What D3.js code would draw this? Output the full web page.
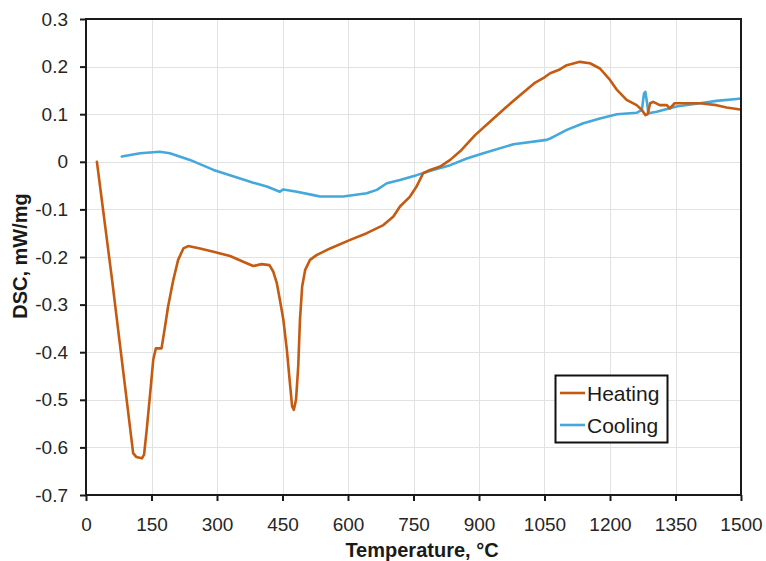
<!DOCTYPE html>
<html>
<head>
<meta charset="utf-8">
<script src="https://cdn.jsdelivr.net/npm/d3@7"></script>
<style>
  html, body { margin: 0; padding: 0; background: #fff; }
  svg { display: block; font-family: "Liberation Sans", Arial, sans-serif; }
</style>
</head>
<body>
<svg id="chart" width="766" height="561"></svg>
<script>
// ---- data ----
const heatT = [25, 60, 108, 115, 128, 133, 139, 147, 154, 160, 173, 181, 188, 200, 211, 223, 234, 261, 292, 330, 360, 383, 402, 420, 429, 437, 444, 452, 460, 467, 472, 476, 481, 486, 490, 495, 502, 513, 528, 559, 605, 643, 681, 704, 719, 742, 757, 772, 788, 811, 834, 860, 891, 925, 960, 994, 1028, 1051, 1063, 1085, 1101, 1131, 1154, 1177, 1200, 1216, 1238, 1261, 1273, 1281, 1286, 1292, 1299, 1314, 1330, 1337, 1348, 1368, 1406, 1444, 1467, 1498];
const heatDSC = [0.000, -0.250, -0.612, -0.620, -0.623, -0.615, -0.563, -0.486, -0.416, -0.392, -0.392, -0.346, -0.304, -0.248, -0.206, -0.182, -0.177, -0.182, -0.189, -0.198, -0.210, -0.219, -0.215, -0.217, -0.231, -0.255, -0.290, -0.332, -0.395, -0.465, -0.514, -0.521, -0.500, -0.430, -0.332, -0.262, -0.227, -0.206, -0.196, -0.182, -0.164, -0.150, -0.133, -0.115, -0.094, -0.073, -0.052, -0.024, -0.017, -0.010, 0.004, 0.025, 0.056, 0.084, 0.113, 0.140, 0.166, 0.178, 0.186, 0.194, 0.203, 0.210, 0.207, 0.196, 0.172, 0.151, 0.130, 0.119, 0.109, 0.098, 0.100, 0.123, 0.126, 0.119, 0.119, 0.112, 0.123, 0.123, 0.123, 0.119, 0.114, 0.110];

const coolT = [82, 124, 169, 192, 238, 292, 353, 383, 414, 444, 452, 483, 521, 536, 589, 643, 666, 689, 719, 757, 795, 834, 872, 910, 979, 1055, 1063, 1078, 1101, 1139, 1177, 1216, 1261, 1273, 1278, 1281, 1285, 1288, 1307, 1352, 1406, 1444, 1490, 1500];
const coolDSC = [0.011, 0.018, 0.021, 0.018, 0.004, -0.017, -0.035, -0.044, -0.052, -0.063, -0.058, -0.063, -0.070, -0.073, -0.073, -0.066, -0.059, -0.045, -0.038, -0.028, -0.017, -0.007, 0.007, 0.018, 0.037, 0.046, 0.049, 0.056, 0.067, 0.081, 0.091, 0.100, 0.103, 0.109, 0.144, 0.147, 0.123, 0.102, 0.105, 0.116, 0.123, 0.128, 0.132, 0.133];

const xTicks = [0, 150, 300, 450, 600, 750, 900, 1050, 1200, 1350, 1500];
const yTicks = [0.3, 0.2, 0.1, 0, -0.1, -0.2, -0.3, -0.4, -0.5, -0.6, -0.7];
const seriesNames = ["Heating", "Cooling"];
const seriesColors = ["#C55A11", "#45A8DB"];

// ---- layout ----
const svg = d3.select("#chart");
const L = 86, R = 741, T = 19, B = 495;
const x = d3.scaleLinear().domain([0, 1500]).range([L, R]);
const y = d3.scaleLinear().domain([-0.7, 0.3]).range([B, T]);

// gridlines
const grid = svg.append("g").attr("stroke", "#e2e2e2").attr("stroke-width", 1);
grid.selectAll("line.v").data(xTicks).join("line")
  .attr("x1", d => Math.round(x(d)) + 0.5).attr("x2", d => Math.round(x(d)) + 0.5)
  .attr("y1", T).attr("y2", B);
grid.selectAll("line.h").data(yTicks).join("line")
  .attr("y1", d => Math.round(y(d)) + 0.5).attr("y2", d => Math.round(y(d)) + 0.5)
  .attr("x1", L).attr("x2", R);

// series
const line = d3.line().x(d => x(d[0])).y(d => y(d[1]));
const heat = heatT.map((t, i) => [t, heatDSC[i]]);
const cool = coolT.map((t, i) => [t, coolDSC[i]]);
svg.append("path").datum(cool).attr("d", line)
  .attr("fill", "none").attr("stroke", seriesColors[1]).attr("stroke-width", 2.6)
  .attr("stroke-linejoin", "round").attr("stroke-linecap", "round");
svg.append("path").datum(heat).attr("d", line)
  .attr("fill", "none").attr("stroke", seriesColors[0]).attr("stroke-width", 2.6)
  .attr("stroke-linejoin", "round").attr("stroke-linecap", "round");

// frame
svg.append("rect").attr("x", L).attr("y", T).attr("width", R - L).attr("height", B - T)
  .attr("fill", "none").attr("stroke", "#1a1a1a").attr("stroke-width", 2);

// axes
const yAxis = d3.axisLeft(y).tickValues(yTicks).tickSize(6).tickPadding(12)
  .tickFormat(d => d === 0 ? "0" : d3.format(".1f")(d).replace("−", "-"));
const gy = svg.append("g").attr("transform", `translate(${L},0)`).call(yAxis);
gy.select(".domain").remove();
gy.selectAll(".tick line").attr("stroke", "#1a1a1a").attr("stroke-width", 2);
gy.selectAll(".tick text").attr("font-size", 19).attr("fill", "#262626")
  .attr("font-family", "Liberation Sans, Arial, sans-serif");

const xAxis = d3.axisBottom(x).tickValues(xTicks).tickSize(6).tickPadding(17)
  .tickFormat(d3.format("d"));
const gx = svg.append("g").attr("transform", `translate(0,${B})`).call(xAxis);
gx.select(".domain").remove();
gx.selectAll(".tick line").attr("stroke", "#1a1a1a").attr("stroke-width", 2);
gx.selectAll(".tick text").attr("font-size", 19).attr("fill", "#262626")
  .attr("font-family", "Liberation Sans, Arial, sans-serif");

// axis titles
svg.append("text").attr("x", 422).attr("y", 557).attr("text-anchor", "middle")
  .attr("font-size", 20).attr("font-weight", "bold").attr("fill", "#1a1a1a")
  .text("Temperature, °C");
svg.append("text").attr("transform", "translate(27,256) rotate(-90)")
  .attr("text-anchor", "middle").attr("font-size", 20).attr("font-weight", "bold")
  .attr("fill", "#1a1a1a").text("DSC, mW/mg");

// legend
const lg = svg.append("g");
lg.append("rect").attr("x", 555.5).attr("y", 375.5).attr("width", 112).attr("height", 67)
  .attr("fill", "#fff").attr("stroke", "#111").attr("stroke-width", 2);
seriesNames.forEach((name, i) => {
  const yy = 393 + i * 32;
  lg.append("line").attr("x1", 560).attr("x2", 585).attr("y1", yy).attr("y2", yy)
    .attr("stroke", seriesColors[i]).attr("stroke-width", 2.6);
  lg.append("text").attr("x", 587).attr("y", yy + 7.5).attr("font-size", 21)
    .attr("fill", "#1a1a1a").text(name);
});
</script>
</body>
</html>
